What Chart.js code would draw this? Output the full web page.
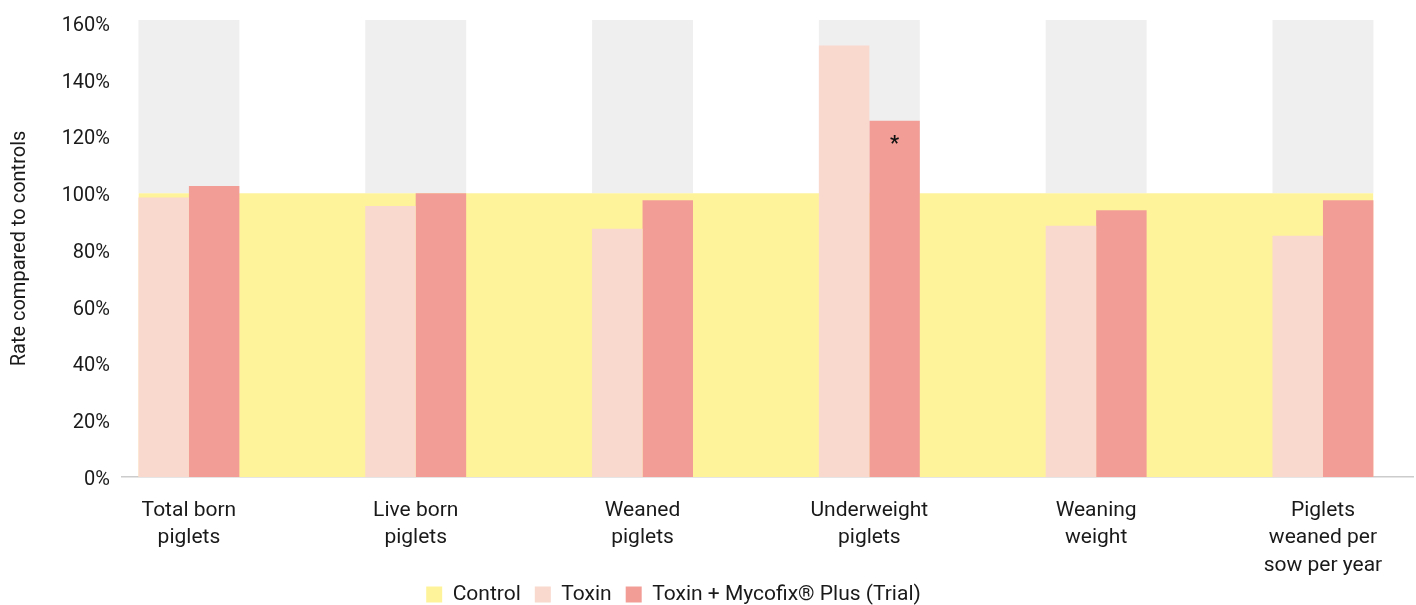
<!DOCTYPE html>
<html>
<head>
<meta charset="utf-8">
<title>Rate compared to controls</title>
<script src="https://cdn.jsdelivr.net/npm/chart.js@4.4.1/dist/chart.umd.min.js"></script>
<style>
  html, body { margin: 0; padding: 0; background: #ffffff; }
  #wrap { width: 1416px; height: 605px; position: relative; }
</style>
</head>
<body>
<div id="wrap"><canvas id="chart"></canvas></div>
<script>
// Reproductive performance relative to controls (%)
const CATEGORIES = [
  ['Total born', 'piglets'],
  ['Live born', 'piglets'],
  ['Weaned', 'piglets'],
  ['Underweight', 'piglets'],
  ['Weaning', 'weight'],
  ['Piglets', 'weaned per', 'sow per year']
];
const CONTROL = [100, 100, 100, 100, 100, 100];
const TOXIN = [98.5, 95.5, 87.5, 152, 88.5, 85];
const MYCOFIX = [102.5, 100, 97.5, 125.5, 94, 97.5];
const SIGNIFICANCE = ['', '', '', '*', '', ''];
const Y_TICKS = [0, 20, 40, 60, 80, 100, 120, 140, 160];
const Y_MAX = 161;

const SERIES_NAMES = ['Control', 'Toxin', 'Toxin + Mycofix\u00AE Plus (Trial)'];
const COLORS = { control: '#fef39b', toxin: '#f9d8cd', mycofix: '#f29e97', band: '#efefef', text: '#1a1a1a' };

// width of one category group, as a share of the category spacing
const GROUP = 0.445;
const X_MIN = -0.295, X_MAX = 5.397;

Chart.defaults.font.family = 'Roboto, "Open Sans", sans-serif';
Chart.defaults.font.size = 20;
Chart.defaults.color = COLORS.text;

const last = CONTROL.length - 1;
const controlPoints = [{ x: -GROUP / 2, y: CONTROL[0] }]
  .concat(CONTROL.map((v, i) => ({ x: i, y: v })))
  .concat([{ x: last + GROUP / 2, y: CONTROL[last] }]);

// asterisks marking significant differences, placed inside the bar top
const significancePlugin = {
  id: 'significance',
  afterDatasetsDraw(chart) {
    const meta = chart.getDatasetMeta(3);
    const ctx = chart.ctx;
    ctx.save();
    ctx.fillStyle = '#111111';
    ctx.font = 'bold 20px Roboto, sans-serif';
    ctx.textAlign = 'center';
    ctx.textBaseline = 'middle';
    meta.data.forEach((bar, i) => {
      if (SIGNIFICANCE[i]) ctx.fillText(SIGNIFICANCE[i], bar.x, bar.y + 24);
    });
    ctx.restore();
  }
};

// moves the legend row under the label block and gives it room to draw
const legendShift = {
  id: 'legendShift',
  afterLayout(chart) {
    const lg = chart.legend;
    lg.left -= 33; lg.right -= 33;
    lg.top -= 8;
    lg.bottom = chart.height;
    lg.height = lg.bottom - lg.top;
  }
};

new Chart(document.getElementById('chart'), {
  type: 'bar',
  data: {
    datasets: [
      {
        // grey band above the control level, one per category
        label: 'band',
        type: 'bar',
        data: CONTROL.map((c, i) => ({ x: i, y: [c, Y_MAX] })),
        backgroundColor: COLORS.band,
        grouped: false,
        categoryPercentage: GROUP,
        barPercentage: 1,
        order: 3
      },
      {
        label: SERIES_NAMES[0],
        type: 'line',
        data: controlPoints,
        backgroundColor: COLORS.control,
        borderColor: COLORS.control,
        borderWidth: 0,
        pointRadius: 0,
        tension: 0,
        fill: 'origin',
        order: 2
      },
      {
        label: SERIES_NAMES[1],
        data: TOXIN.map((v, i) => ({ x: i, y: v })),
        backgroundColor: COLORS.toxin,
        categoryPercentage: GROUP,
        barPercentage: 1,
        order: 0
      },
      {
        label: SERIES_NAMES[2],
        data: MYCOFIX.map((v, i) => ({ x: i, y: v })),
        backgroundColor: COLORS.mycofix,
        categoryPercentage: GROUP,
        barPercentage: 1,
        order: 0
      }
    ]
  },
  options: {
    responsive: true,
    maintainAspectRatio: false,
    animation: false,
    layout: { padding: { top: 20, right: 3, left: 0, bottom: 0 } },
    scales: {
      x: {
        type: 'linear',
        offset: false,
        min: X_MIN,
        max: X_MAX,
        afterBuildTicks: s => { s.ticks = CATEGORIES.map((_, i) => ({ value: i })); },
        afterFit: s => { s.height = 101; },
        ticks: {
          stepSize: 1,
          includeBounds: false,
          callback: v => CATEGORIES[v],
          font: { size: 21, lineHeight: 1.3 },
          padding: 20,
          maxRotation: 0,
          autoSkip: false
        },
        grid: { display: false, drawTicks: false, offset: false },
        border: { display: true, color: '#cccccc', width: 1.5 }
      },
      y: {
        min: 0,
        max: Y_MAX,
        afterBuildTicks: s => { s.ticks = Y_TICKS.map(v => ({ value: v })); },
        afterFit: s => { s.width = 122; },
        ticks: { callback: v => v + '%', padding: 12, labelOffset: 3, font: { size: 20, lineHeight: 0.8 } },
        grid: { display: false, drawTicks: false },
        border: { display: false },
        title: {
          display: true,
          text: 'Rate compared to controls',
          font: { size: 20 },
          padding: { top: 8, bottom: 0 }
        }
      }
    },
    plugins: {
      tooltip: { enabled: false },
      legend: {
        position: 'bottom',
        maxHeight: 27,
        labels: {
          boxWidth: 16,
          boxHeight: 16,
          padding: 14,
          font: { size: 21 },
          generateLabels: chart => [1, 2, 3].map(i => {
            const ds = chart.data.datasets[i];
            return {
              text: ds.label,
              fillStyle: ds.backgroundColor,
              strokeStyle: 'rgba(0,0,0,0)',
              lineWidth: 0,
              hidden: false,
              datasetIndex: i,
              fontColor: COLORS.text
            };
          })
        }
      }
    }
  },
  plugins: [significancePlugin, legendShift]
});
</script>
</body>
</html>
